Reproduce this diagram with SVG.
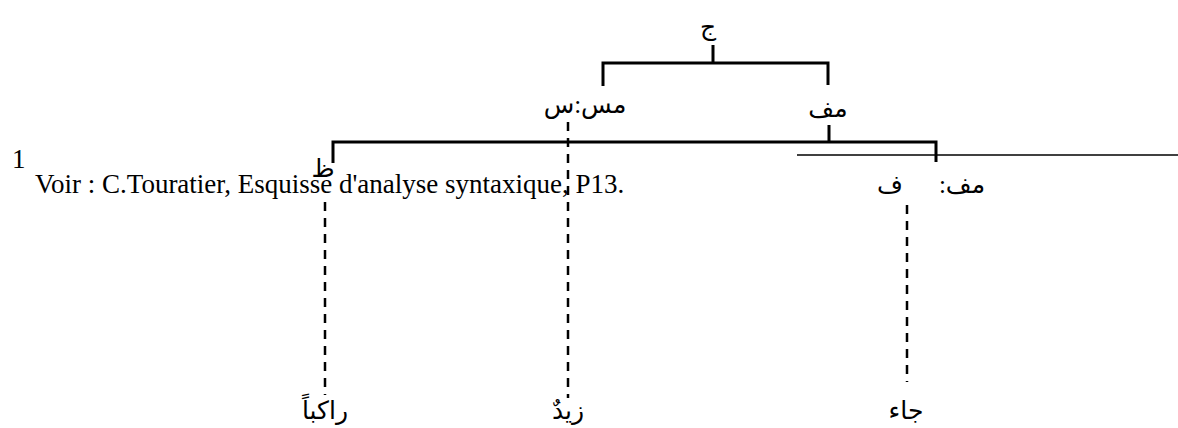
<svg xmlns="http://www.w3.org/2000/svg" width="1178" height="428" viewBox="0 0 1178 428">
<style>
.ar{font-family:"Liberation Serif","DejaVu Sans",serif;font-size:25px;fill:#000;text-anchor:middle}
.lat{font-family:"Liberation Serif","Times New Roman",serif;font-size:27px;fill:#000}
.thick{stroke:#000;stroke-width:3;fill:none}
.dash{stroke:#000;stroke-width:2.5;fill:none;stroke-dasharray:9 7}
.thin{stroke:#000;stroke-width:1.5;fill:none}
</style>
<rect width="1178" height="428" fill="#fff"/>
<g id="connectors">
<path class="thick" d="M713 45V63M603 86V63H828V85"/>
<path class="thick" d="M829 125V142M333 163V142H936V162"/>
<path class="dash" d="M568 122V398"/>
<path class="dash" d="M325 202V395"/>
<path class="dash" d="M907 205V382"/>
<path class="thin" d="M797 155H1178"/>
</g>
<g id="n-jim"><text class="ar" x="708" y="35">ج</text></g>
<g id="n-mss"><text class="ar" x="585" y="113" direction="rtl">مس:س</text></g>
<g id="n-mf"><text class="ar" x="828" y="117">مف</text></g>
<g id="n-za"><text class="ar" x="323" y="177" font-size="22">ظ</text></g>
<g id="n-mff"><text class="ar" x="890" y="193">ف</text><text class="ar" x="962" y="193" direction="rtl">مف:</text></g>
<g id="n-rakiban"><text class="ar" x="325" y="419">راكباً</text></g>
<g id="n-zayd"><text class="ar" x="568" y="419">زيدٌ</text></g>
<g id="n-jaa"><text class="ar" x="906" y="419">جاء</text></g>
<g id="footnote">
<text class="lat" x="12" y="168" font-size="16">1</text>
<text class="lat" x="35" y="193">Voir : C.Touratier, Esquisse d'analyse syntaxique, P13.</text>
</g>
</svg>
